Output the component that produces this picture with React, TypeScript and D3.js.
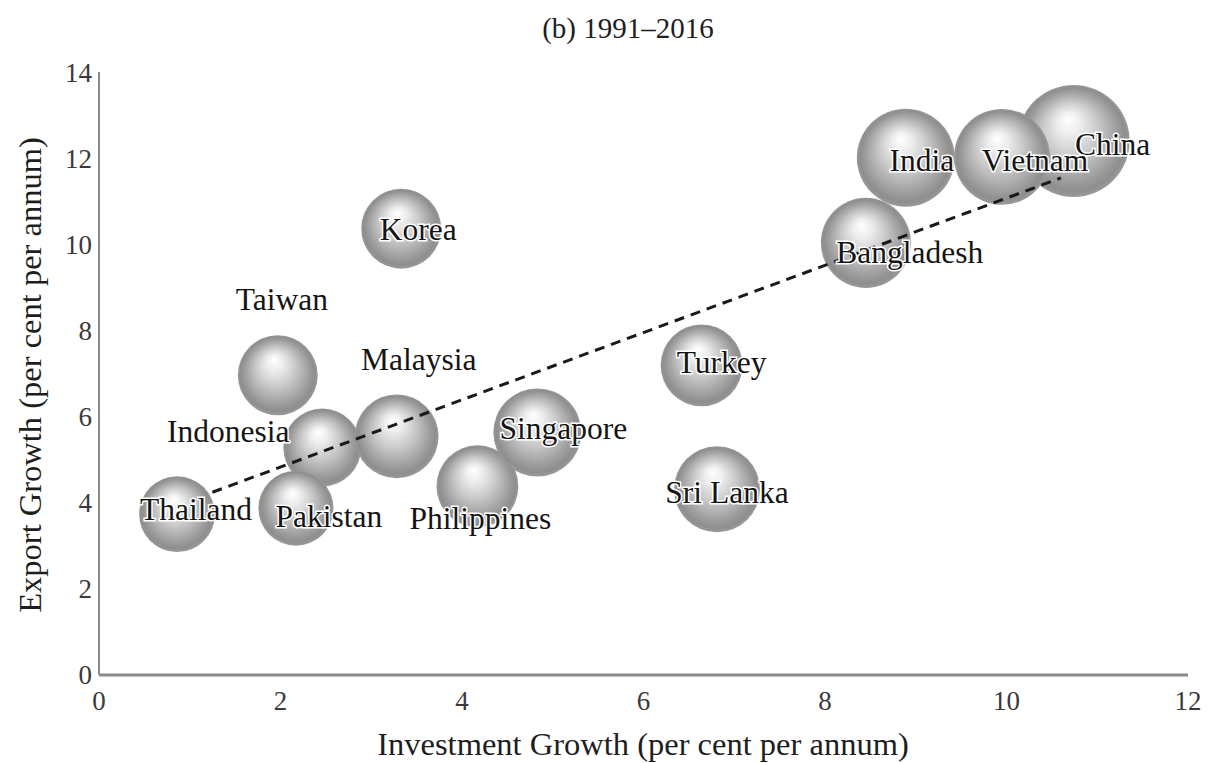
import React, { useEffect, useRef } from "react";
import * as d3 from "d3";

// data
const countries = [
  "China", "India", "Vietnam", "Bangladesh", "Korea", "Taiwan", "Indonesia",
  "Malaysia", "Pakistan", "Thailand", "Philippines", "Singapore", "Turkey", "Sri Lanka",
];
const investmentGrowth = [10.74, 8.89, 9.95, 8.45, 3.33, 1.97, 2.46, 3.28, 2.17, 0.86, 4.17, 4.83, 6.64, 6.81];
const exportGrowth = [12.42, 12.03, 12.05, 10.05, 10.38, 6.97, 5.29, 5.55, 3.88, 3.74, 4.39, 5.64, 7.2, 4.32];
const bubbleSize = [31.4, 24, 23, 20.3, 16, 16, 15.2, 17.6, 14.1, 14.4, 16.8, 19.4, 16.8, 18.5];

const trendX = [1.25, 10.6];
const trendY = [4.25, 11.56];

const xTicks = [0, 2, 4, 6, 8, 10, 12];
const yTicks = [0, 2, 4, 6, 8, 10, 12, 14];

// label placement relative to bubble centre (px)
const labelOffsets: Record<string, [number, number]> = {
  China: [39, 3], India: [16, 2], Vietnam: [33, 3], Bangladesh: [44, 9],
  Korea: [17, 0], Taiwan: [4, -76], Indonesia: [-94, -17], Malaysia: [22, -77],
  Pakistan: [33, 8], Thailand: [19, -5], Philippines: [3, 32], Singapore: [26, -5],
  Turkey: [20, -3], "Sri Lanka": [10, 3],
};

const W = 1211;
const H = 763;
const margin = { top: 73, right: 23, bottom: 87, left: 99 };
const font = "'Liberation Serif', 'DejaVu Serif', serif";

const App = () => {
  const svgRef = useRef<SVGSVGElement>(null);

  useEffect(() => {
    const svg = d3.select(svgRef.current);
    svg.selectAll("*").remove();

    const x = d3.scaleLinear().domain([0, 12]).range([margin.left, W - margin.right]);
    const y = d3.scaleLinear().domain([0, 14]).range([H - margin.bottom - 1, margin.top]);
    const r = d3.scaleSqrt().domain([0, d3.max(bubbleSize) as number]).range([0, 56]);

    const defs = svg.append("defs");
    const grad = defs
      .append("radialGradient")
      .attr("id", "ball")
      .attr("cx", 0.5)
      .attr("cy", 0.5)
      .attr("r", 0.5)
      .attr("fx", 0.45)
      .attr("fy", 0.3);
    [
      [0, "#ffffff"],
      [0.2, "#eeeeee"],
      [0.5, "#c8c8c8"],
      [0.8, "#9e9e9e"],
      [0.93, "#8e8e8e"],
      [1, "#9a9a9a"],
    ].forEach(([o, c]) => grad.append("stop").attr("offset", o as number).attr("stop-color", c as string));

    // axes
    svg
      .append("line")
      .attr("x1", x(0))
      .attr("x2", x(0))
      .attr("y1", y(14) - 1)
      .attr("y2", y(0))
      .attr("stroke", "#8a8a8a")
      .attr("stroke-width", 2);
    svg
      .append("line")
      .attr("x1", x(0))
      .attr("x2", x(12))
      .attr("y1", y(0))
      .attr("y2", y(0))
      .attr("stroke", "#8a8a8a")
      .attr("stroke-width", 3);

    svg
      .append("g")
      .selectAll("text")
      .data(yTicks)
      .join("text")
      .attr("x", x(0) - 7)
      .attr("y", (d) => y(d))
      .attr("dy", "0.35em")
      .attr("text-anchor", "end")
      .attr("font-family", font)
      .attr("font-size", 27)
      .attr("fill", "#3a3a3a")
      .text((d) => d);

    svg
      .append("g")
      .selectAll("text")
      .data(xTicks)
      .join("text")
      .attr("x", (d) => x(d))
      .attr("y", y(0) + 26)
      .attr("dy", "0.35em")
      .attr("text-anchor", "middle")
      .attr("font-family", font)
      .attr("font-size", 27)
      .attr("fill", "#3a3a3a")
      .text((d) => d);

    // titles
    svg
      .append("text")
      .attr("x", 628)
      .attr("y", 28)
      .attr("dy", "0.35em")
      .attr("text-anchor", "middle")
      .attr("font-family", font)
      .attr("font-size", 29)
      .attr("fill", "#1e1e1e")
      .text("(b) 1991\u20132016");

    svg
      .append("text")
      .attr("x", 643)
      .attr("y", 744)
      .attr("dy", "0.35em")
      .attr("text-anchor", "middle")
      .attr("font-family", font)
      .attr("font-size", 32.5)
      .attr("fill", "#1e1e1e")
      .text("Investment Growth (per cent per annum)");

    svg
      .append("text")
      .attr("transform", `translate(30,375) rotate(-90)`)
      .attr("dy", "0.35em")
      .attr("text-anchor", "middle")
      .attr("font-family", font)
      .attr("font-size", 32.5)
      .attr("fill", "#1e1e1e")
      .text("Export Growth (per cent per annum)");

    // bubbles
    const idx = d3.range(countries.length);
    svg
      .append("g")
      .selectAll("circle")
      .data(idx)
      .join("circle")
      .attr("cx", (i) => x(investmentGrowth[i]))
      .attr("cy", (i) => y(exportGrowth[i]))
      .attr("r", (i) => r(bubbleSize[i]))
      .attr("fill", "url(#ball)");

    // trendline
    svg
      .append("path")
      .attr("d", d3.line<number>().x((i) => x(trendX[i])).y((i) => y(trendY[i]))([0, 1]))
      .attr("stroke", "#1a1a1a")
      .attr("stroke-width", 3)
      .attr("stroke-dasharray", "10,7")
      .attr("fill", "none");

    // labels
    svg
      .append("g")
      .selectAll("text")
      .data(idx)
      .join("text")
      .attr("x", (i) => x(investmentGrowth[i]) + labelOffsets[countries[i]][0])
      .attr("y", (i) => y(exportGrowth[i]) + labelOffsets[countries[i]][1])
      .attr("dy", "0.35em")
      .attr("text-anchor", "middle")
      .attr("font-family", font)
      .attr("font-size", 31.5)
      .attr("fill", "#151515")
      .attr("stroke", "#fff")
      .attr("stroke-width", 3)
      .attr("paint-order", "stroke")
      .text((i) => countries[i]);
  }, []);

  return (
    <svg
      ref={svgRef}
      width={W}
      height={H}
      style={{ position: "absolute", left: 0, top: 0, display: "block" }}
    />
  );
};

export default App;
